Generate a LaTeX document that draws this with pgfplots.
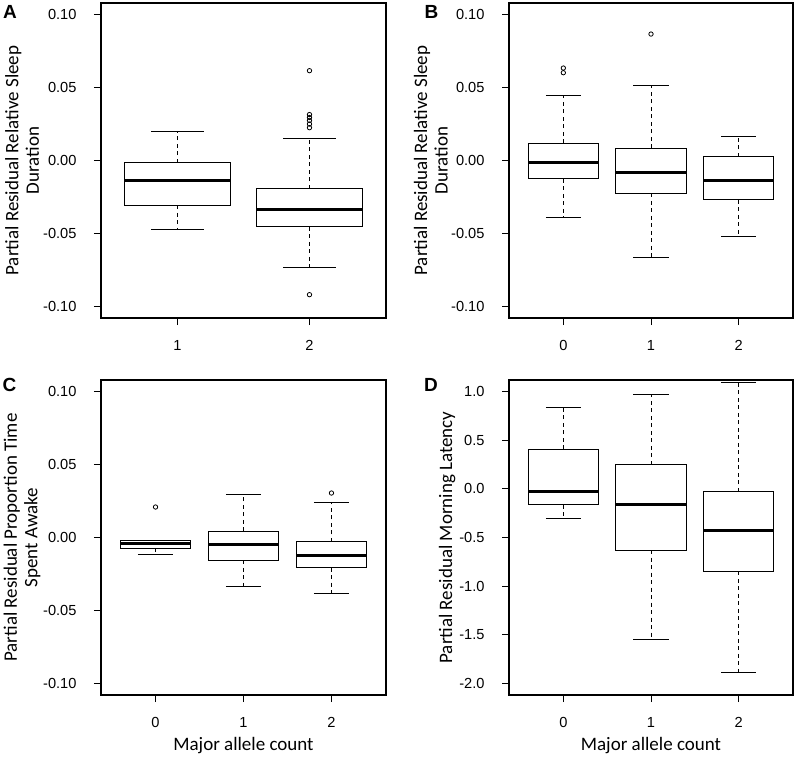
\documentclass[border=0pt]{standalone}
\usepackage{fontspec}
\setmainfont{Carlito}
\newfontfamily\tickfont{Liberation Sans}
\usepackage{pgfplots}
\pgfplotsset{compat=1.18}
\usepgfplotslibrary{statistics}

\pgfplotsset{
  rbox/.style={
    scale only axis, width=285pt, height=315pt, anchor=north west,
    axis line style={line width=1.1pt},
    tick align=outside, major tick length=7pt,
    xtick pos=bottom, ytick pos=left,
    tick style={black, line width=0.9pt},
    /pgf/number format/assume math mode=true,
    ticklabel style={font=\tickfont\fontsize{14.6}{14.6}\selectfont},
    xticklabel style={yshift=-11.5pt},
    yticklabel shift=14pt,
    label style={font=\fontsize{19}{20.5}\selectfont},
    ylabel style={align=center, anchor=center},
    xlabel style={at={(axis description cs:0.5,-0.159)}, anchor=center},
  },
  /pgfplots/boxplot/draw direction=y,
  /pgfplots/boxplot/box extend=0.8,
  /pgfplots/boxplot/whisker extend=0.4,
  /pgfplots/boxplot/every median/.style={line width=3pt},
  /pgfplots/boxplot/draw/lower whisker/.code={
    \draw[/pgfplots/boxplot/every whisker/.try, dash pattern=on 4pt off 3.5pt]
      (boxplot box cs:\pgfplotsboxplotvalue{lower quartile},0.5) --
      (boxplot box cs:\pgfplotsboxplotvalue{lower whisker},0.5);
    \draw[/pgfplots/boxplot/every whisker/.try]
      (boxplot whisker cs:\pgfplotsboxplotvalue{lower whisker},0) --
      (boxplot whisker cs:\pgfplotsboxplotvalue{lower whisker},1);
  },
  /pgfplots/boxplot/draw/upper whisker/.code={
    \draw[/pgfplots/boxplot/every whisker/.try, dash pattern=on 4pt off 3.5pt]
      (boxplot box cs:\pgfplotsboxplotvalue{upper quartile},0.5) --
      (boxplot box cs:\pgfplotsboxplotvalue{upper whisker},0.5);
    \draw[/pgfplots/boxplot/every whisker/.try]
      (boxplot whisker cs:\pgfplotsboxplotvalue{upper whisker},0) --
      (boxplot whisker cs:\pgfplotsboxplotvalue{upper whisker},1);
  },
  small/.style={
    ymin=-0.108, ymax=0.108,
    ytick={-0.1,-0.05,0,0.05,0.1},
    yticklabels={-0.10,-0.05,0.00,0.05,0.10},
  },
  three/.style={
    xmin=-0.62, xmax=2.62, xtick={0,1,2}, xticklabels={0,1,2},
  },
  bx/.style={black, line width=1pt, mark=o, mark size=2.2pt,
    every mark/.append style={solid, line width=0.8pt}},
}

\begin{document}
\begin{tikzpicture}
\useasboundingbox (0,0) rectangle (796pt,-756pt);

% A
\begin{axis}[rbox, small, at={(101pt,-3pt)},
  xmin=0.42, xmax=2.58, xtick={1,2}, xticklabels={1,2},
  ylabel={Partial Residual Relative Sleep\\Duration},
  ylabel style={at={(axis description cs:-0.277,0.5)}}]
\addplot[bx, boxplot prepared={draw position=1, lower whisker=-0.0472,
  lower quartile=-0.0307, median=-0.0137, upper quartile=-0.0014,
  upper whisker=0.0201}] coordinates {};
\addplot[bx, boxplot prepared={draw position=2, lower whisker=-0.0735,
  lower quartile=-0.0455, median=-0.0339, upper quartile=-0.0192,
  upper whisker=0.0153}]
  table[row sep=\\, y index=0] {data\\ 0.0616\\ 0.0315\\ 0.0295\\ 0.0275\\ 0.0250\\ 0.0225\\ -0.0920\\};
\end{axis}

% B
\begin{axis}[rbox, small, three, at={(509pt,-3pt)}, width=284pt,
  ylabel={Partial Residual Relative Sleep\\Duration},
  ylabel style={at={(axis description cs:-0.275,0.5)}}]
\addplot[bx, boxplot prepared={draw position=0, lower whisker=-0.0392,
  lower quartile=-0.0126, median=-0.0014, upper quartile=0.0119,
  upper whisker=0.0446}]
  table[row sep=\\, y index=0] {data\\ 0.0634\\ 0.0602\\};
\addplot[bx, boxplot prepared={draw position=1, lower whisker=-0.0664,
  lower quartile=-0.0225, median=-0.0084, upper quartile=0.0085,
  upper whisker=0.0517}]
  table[row sep=\\, y index=0] {data\\ 0.0867\\};
\addplot[bx, boxplot prepared={draw position=2, lower whisker=-0.0524,
  lower quartile=-0.0270, median=-0.0137, upper quartile=0.0025,
  upper whisker=0.0165}] coordinates {};
\end{axis}

% C
\begin{axis}[rbox, small, three, at={(101pt,-380pt)},
  xlabel={Major allele count},
  ylabel={Partial Residual Proportion Time\\Spent Awake},
  ylabel style={at={(axis description cs:-0.277,0.5)}}]
\addplot[bx, boxplot prepared={draw position=0, lower whisker=-0.0117,
  lower quartile=-0.0073, median=-0.0041, upper quartile=-0.0023,
  upper whisker=-0.0018}]
  table[row sep=\\, y index=0] {data\\ 0.0209\\};
\addplot[bx, boxplot prepared={draw position=1, lower whisker=-0.0333,
  lower quartile=-0.0156, median=-0.0048, upper quartile=0.0044,
  upper whisker=0.0296}] coordinates {};
\addplot[bx, boxplot prepared={draw position=2, lower whisker=-0.0385,
  lower quartile=-0.0206, median=-0.0124, upper quartile=-0.0030,
  upper whisker=0.0239}]
  table[row sep=\\, y index=0] {data\\ 0.0305\\};
\end{axis}

% D
\begin{axis}[rbox, three, at={(509pt,-380pt)}, width=284pt,
  ymin=-2.12, ymax=1.12,
  ytick={-2,-1.5,-1,-0.5,0,0.5,1},
  yticklabels={-2.0,-1.5,-1.0,-0.5,0.0,0.5,1.0},
  xlabel={Major allele count},
  ylabel={Partial Residual Morning Latency},
  ylabel style={at={(axis description cs:-0.218,0.5)}}]
\addplot[bx, boxplot prepared={draw position=0, lower whisker=-0.308,
  lower quartile=-0.164, median=-0.024, upper quartile=0.408,
  upper whisker=0.839}] coordinates {};
\addplot[bx, boxplot prepared={draw position=1, lower whisker=-1.548,
  lower quartile=-0.630, median=-0.158, upper quartile=0.250,
  upper whisker=0.973}] coordinates {};
\addplot[bx, boxplot prepared={draw position=2, lower whisker=-1.884,
  lower quartile=-0.849, median=-0.425, upper quartile=-0.027,
  upper whisker=1.092}] coordinates {};
\end{axis}

\begin{scope}[every node/.style={font=\tickfont\bfseries\fontsize{19}{19}\selectfont, inner sep=0pt}]
\node at (10pt,-12pt) {A};
\node at (431.5pt,-12pt) {B};
\node at (9.5pt,-385pt) {C};
\node at (431pt,-385pt) {D};
\end{scope}
\end{tikzpicture}
\end{document}
